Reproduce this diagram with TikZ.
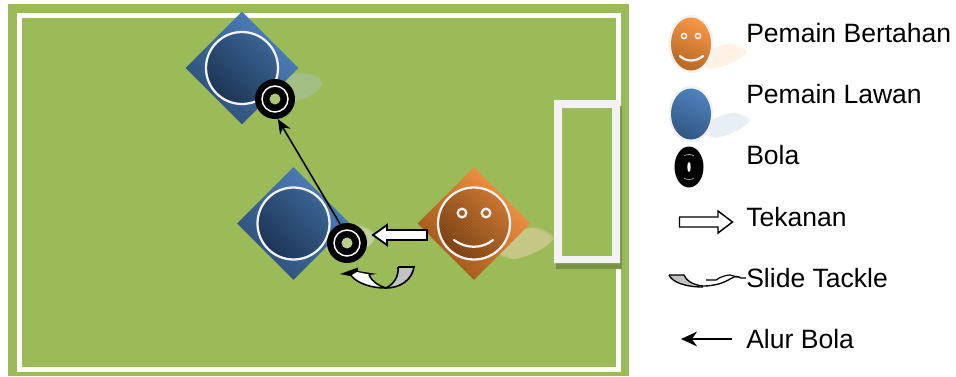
\documentclass[tikz,border=0pt]{standalone}
\usepackage{fontspec}
\setmainfont{Liberation Sans}
\usetikzlibrary{shapes.geometric,arrows.meta,fadings}
\definecolor{fieldg}{HTML}{9BBB59}
\definecolor{bluel}{HTML}{4F81BD}
\definecolor{blued}{HTML}{2C4D75}
\definecolor{blueA}{HTML}{38628F}
\definecolor{blueB}{HTML}{182D4B}
\definecolor{orgl}{HTML}{F79646}
\definecolor{orgd}{HTML}{9A5518}
\definecolor{orgA}{HTML}{C4722F}
\definecolor{orgB}{HTML}{6E3A10}
\definecolor{rimc}{HTML}{F2F2F2}
\tikzset{
  x=0.75pt,y=-0.75pt,
  bluediamond/.style={diamond,aspect=1,inner sep=0pt,minimum width=84.75pt,minimum height=84.75pt,left color=bluel,right color=blued,shading angle=-45},
  orangediamond/.style={diamond,aspect=1,inner sep=0pt,minimum width=84.75pt,minimum height=84.75pt,left color=orgl,right color=orgd,shading angle=-45},
  ball/.style={circle,fill=black,inner sep=0pt,minimum size=30pt},
  ballring/.style={draw=white,line width=1.1pt},
  facering/.style={draw=rimc,line width=1.7pt},
  faceline/.style={draw=rimc,line width=1.7pt,line cap=round},
  blockarrow/.style={draw=black,fill=white,line width=1.4pt,miter limit=10},
  legendtext/.style={anchor=base west,inner sep=0pt,font=\fontsize{19.9pt}{22pt}\selectfont},
  flow/.style={draw=black,line width=1.2pt,-{Stealth[length=11pt,width=9pt]}},
}
\newcommand{\shadowell}[6]{% x y rx ry colour opacity
  \fill[#5,opacity=#6,rotate around={20:(#1,#2)},path fading=circle with fuzzy edge 15 percent] (#1,#2) ellipse[x radius=#3,y radius=#4];}
\newcommand{\facedisc}[5]{% x y colA colB streak
  \begin{scope}
    \clip (#1,#2) circle[radius=36];
    \shade[left color=#3,right color=#4,shading angle=-45] (#1-36,#2-36) rectangle (#1+36,#2+36);
    \foreach \k in {-100,-97,...,100}
      \draw[#5,opacity=.18,line width=.7pt] (#1+\k-60,#2+60) -- (#1+\k+60,#2-60+8);
  \end{scope}
  \draw[facering] (#1,#2) circle[radius=36];}
\begin{document}
\begin{tikzpicture}
\useasboundingbox (0,0) rectangle (956,376);
\fill[white] (0,0) rectangle (956,376);
% field
\fill[fieldg] (8,4) rectangle (629,376);
\draw[white,line width=3.4pt] (19.5,15.5) rectangle (618.5,369.5);
% goal
\fill[black!22!fieldg,even odd rule] (556,106) rectangle (622,269) (562,108) rectangle (612,256);
\fill[rimc,even odd rule] (554,100) rectangle (620,263) (562,108) rectangle (612,256);
% shadows
\shadowell{300}{86}{24}{13}{rimc!60!bluel!40!fieldg}{.8}
\shadowell{350}{240}{27}{15}{rimc!60!fieldg}{.7}
\shadowell{524}{243}{33}{13}{orange!25!rimc!60!fieldg}{.8}
% top opponent
\node[bluediamond] (opptop) at (242,68) {};
\facedisc{242}{68}{blueA}{blueB}{bluel}
% lower opponent
\node[bluediamond] (opplow) at (293.5,223.5) {};
\facedisc{293.5}{223.5}{blueA}{blueB}{bluel}
% defender
\node[orangediamond] (defender) at (474,223.5) {};
\facedisc{474}{223.5}{orgA}{orgB}{orgl}
\draw[facering] (462,213) circle[radius=4.3];
\draw[facering] (486,213) circle[radius=4.3];
\draw[faceline] (454,240) .. controls (466,249) and (482,249) .. (493,240);
% balls
\node[ball] (balltop) at (275,99) {};
\draw[ballring] (balltop.center) circle[radius=13];
\fill[fieldg!85!white] (balltop.center) circle[radius=5.5];
\node[ball] (balllow) at (347,243) {};
\draw[ballring] (balllow.center) circle[radius=13];
\fill[fieldg!70!white] (balllow.center) circle[radius=5.5];
% ball path
\draw[flow] (balllow.110) -- (balltop.278);
% pressure arrow
\draw[blockarrow] (427,230) -- (387,230) -- (387,225) -- (373,235) -- (387,245) -- (387,240) -- (427,240) -- cycle;
% slide tackle
\fill[rimc!80!black] (398,267) -- (415,267) .. controls (413,280) and (400,288) .. (386,288) .. controls (394,284) and (399,276) .. (398,267) -- cycle;
\draw[black,line width=1.2pt] (398,267) -- (414,267) .. controls (412,280) and (400,288) .. (386,288);
\draw[black,line width=1.2pt] (398,267) .. controls (399,276) and (394,284) .. (386,288);
\fill[black] (340,274) -- (358,267.5) -- (358,271) -- (377,274) -- (368,275) -- (350,276) -- cycle;
\fill[white] (386,288) .. controls (372,288) and (358,284) .. (351,275.5) -- (357,272) -- (369,274.5) .. controls (372,282) and (379,286) .. (386,288) -- cycle;
\draw[black,line width=1.2pt] (386,288) .. controls (372,288) and (358,284) .. (351,275.5);
\draw[black,line width=1.2pt] (369,274.5) .. controls (372,282) and (379,286) .. (386,288);
% legend: defender
\shadowell{722}{56}{28}{10}{orange!15!white}{.7}
\fill[rimc] (691,44) ellipse[x radius=22.5,y radius=29];
\shade[left color=orgl,right color=orgd!70!orgl,shading angle=-25] (691,44) ellipse[x radius=20,y radius=26.5];
\draw[rimc,line width=1.1pt] (684,36) circle[radius=2.6];
\draw[rimc,line width=1.1pt] (698,36) circle[radius=2.6];
\draw[rimc,line width=1.7pt,line cap=round] (680,56) .. controls (686,62) and (696,62) .. (703,56);
% legend: opponent
\shadowell{725}{125}{28}{10}{bluel!18!white}{.7}
\fill[rimc] (691,114) ellipse[x radius=22.5,y radius=28];
\shade[left color=bluel,right color=blued!80!bluel,shading angle=-25] (691,114) ellipse[x radius=20,y radius=25.5];
% legend: ball
\fill[black] (689,167) ellipse[x radius=14.5,y radius=20.5] node (legendball) {};
\fill[white] (689,167) ellipse[x radius=1.7,y radius=5];
\draw[white!70!black,line width=.5pt] (684,156) .. controls (686,154) and (692,154) .. (694,156);
\draw[white!70!black,line width=.5pt] (684,178) .. controls (686,180) and (692,180) .. (694,178);
% legend: pressure
\draw[blockarrow,line width=1.1pt] (679.5,217) -- (718,217) -- (718,211) -- (732.5,222) -- (718,233) -- (718,227) -- (679.5,227) -- cycle;
% legend: tackle
\fill[rimc!80!black] (669,275) -- (684,275) .. controls (686,280) and (690,284) .. (695,286) .. controls (685,286) and (672,282) .. (669,275) -- cycle;
\draw[black,line width=1pt] (669,275) -- (684,275) .. controls (686,280) and (692,285) .. (703,286) .. controls (714,286) and (724,283) .. (730,279) .. controls (735,276) and (738,276) .. (741,278) -- (746,278);
\draw[black,line width=1pt] (669,275) .. controls (672,282) and (685,287) .. (703,287);
\draw[black,line width=.9pt] (706,280) -- (716,280) .. controls (720,277) and (726,275) .. (730,275) -- (738,277);
% legend: ball path
\coordinate (legendstart) at (732,339);
\coordinate (legendend) at (681,339);
\draw[black,line width=1.2pt,-{Stealth[length=12pt,width=11pt]}] (legendstart) -- (legendend);
% legend texts
\node[legendtext] (t1) at (746,42) {Pemain Bertahan};
\node[legendtext] (t2) at (746,103) {Pemain Lawan};
\node[legendtext] (t3) at (746,164) {Bola};
\node[legendtext] (t4) at (746,226) {Tekanan};
\node[legendtext] (t5) at (746,287) {Slide Tackle};
\node[legendtext] (t6) at (746,348) {Alur Bola};
\end{tikzpicture}
\end{document}
